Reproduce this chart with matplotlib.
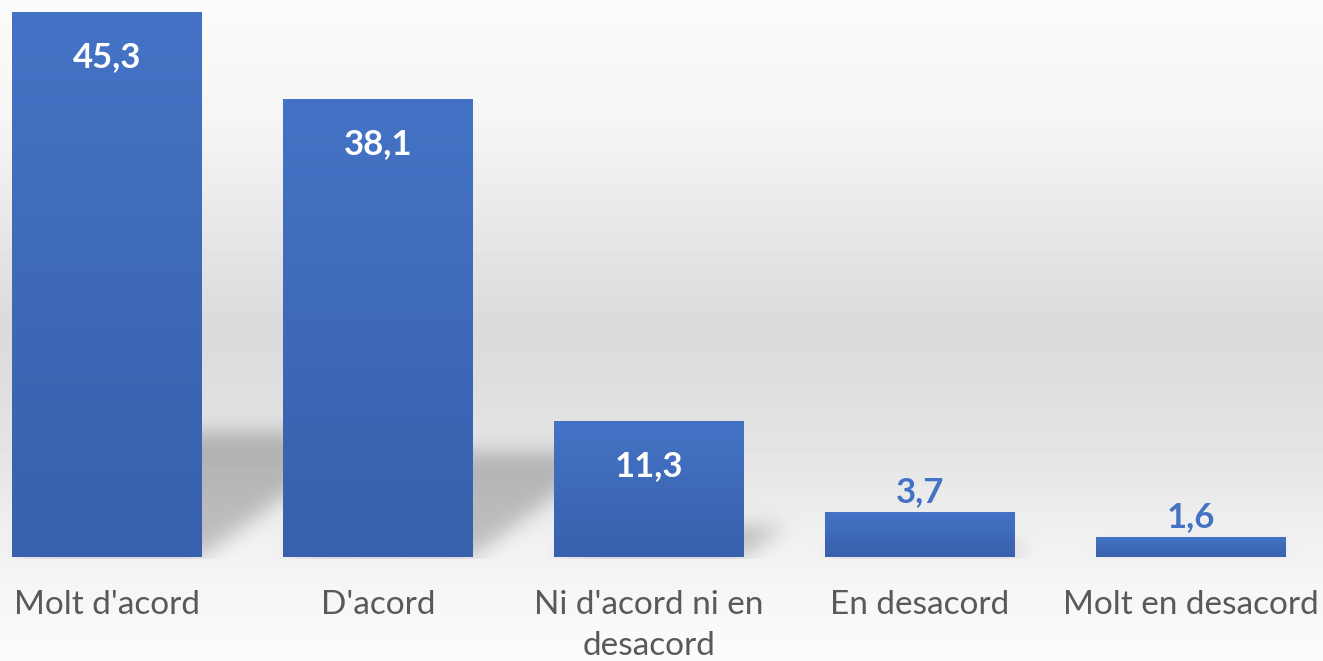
import numpy as np
import matplotlib
matplotlib.use("Agg")
import matplotlib.pyplot as plt
from matplotlib.path import Path

# Data
categories = ["Molt d'acord", "D'acord", "Ni d'acord ni en\ndesacord", "En desacord", "Molt en desacord"]
values = [45.3, 38.1, 11.3, 3.7, 1.6]
value_labels = ["45,3", "38,1", "11,3", "3,7", "1,6"]
inside = [True, True, True, False, False]

W, H = 1323, 661
fig = plt.figure(figsize=(W / 100, H / 100), dpi=100)

ax_bg = fig.add_axes([0, 0, 1, 1], zorder=-1)
ax_bg.axis("off")

ax = fig.add_axes([0, 104 / H, 1, 557 / H])
ax.set_facecolor("none")

x = np.arange(len(categories))
bars = ax.bar(x, values, width=0.70, color="#4472C4", zorder=2)

# gradient fill on each bar (light on top, darker at the bottom)
grad = np.linspace(0, 1, 256).reshape(-1, 1)
bar_cmap = matplotlib.colors.LinearSegmentedColormap.from_list("bar", ["#4473C5", "#3860AD"])
for b in bars:
    x0, y0 = b.get_x(), b.get_y()
    ax.imshow(grad, extent=(x0, x0 + b.get_width(), y0, y0 + b.get_height()),
              cmap=bar_cmap, aspect="auto", zorder=3, origin="upper")
    b.set_visible(False)
ax.set_xlim(-0.395, 4.489)
ax.set_ylim(0, 46.38)

# background gradient with perspective shadows
rows = np.arange(H)
gray = np.interp(rows, [0, 120, 330, 450, 557, 661], [251, 245, 218, 228, 243, 252])
bg = np.repeat(gray[:, None], W, axis=1).astype(float)

fig.canvas.draw()
yy, xx = np.mgrid[0:H, 0:W]
pts = np.column_stack([xx.ravel() + 0.5, (H - yy.ravel()) - 0.5])
mask = np.zeros(H * W)
for b in bars:
    (px0, pyb), (px1, pyt) = ax.transData.transform([(b.get_x(), 0), (b.get_x() + b.get_width(), b.get_height())])
    h = 0.23 * (pyt - pyb)
    dx = 1.35 * h
    poly = Path([(px0, pyb), (px1, pyb), (px1 + dx, pyb + h), (px0 + dx, pyb + h)])
    mask = np.maximum(mask, poly.contains_points(pts).astype(float))
mask = mask.reshape(H, W)


def box_blur(a, k):
    pad = k // 2
    for axis in (0, 1):
        a = np.pad(a, [(pad, pad) if i == axis else (0, 0) for i in range(2)], mode="edge")
        c = np.cumsum(a, axis=axis)
        c = np.concatenate([np.zeros_like(np.take(c, [0], axis=axis)), c], axis=axis)
        n = a.shape[axis] - k + 1
        a = (np.take(c, range(k, k + n), axis=axis) - np.take(c, range(0, n), axis=axis)) / k
    return a


for _ in range(3):
    mask = box_blur(mask, 19)
mask[int(H - 104) + 2:, :] = 0
bg = bg - 50 * mask[:H, :W]
ax_bg.imshow(bg, cmap="gray", vmin=0, vmax=255, extent=(0, 1, 0, 1), aspect="auto")
ax_bg.set_xlim(0, 1)
ax_bg.set_ylim(0, 1)

# value labels
for b, lab, ins in zip(bars, value_labels, inside):
    cx = b.get_x() + b.get_width() / 2
    top = b.get_height()
    if ins:
        ax.annotate(lab, (cx, top), xytext=(0, -32), textcoords="offset points",
                    ha="center", va="center", color="white", fontsize=25,
                    fontweight="bold", family="Lato", zorder=5)
    else:
        ax.annotate(lab, (cx, top), xytext=(0, 15), textcoords="offset points",
                    ha="center", va="center", color="#4472C4", fontsize=25,
                    fontweight="bold", family="Lato", zorder=5)

ax.set_xticks(x)
ax.set_xticklabels(categories, fontsize=24, color="#595959", family="Lato", linespacing=1.45)
ax.tick_params(axis="x", length=0, pad=24)
ax.set_yticks([])
for s in ax.spines.values():
    s.set_visible(False)

fig.savefig("out.png", dpi=100)
